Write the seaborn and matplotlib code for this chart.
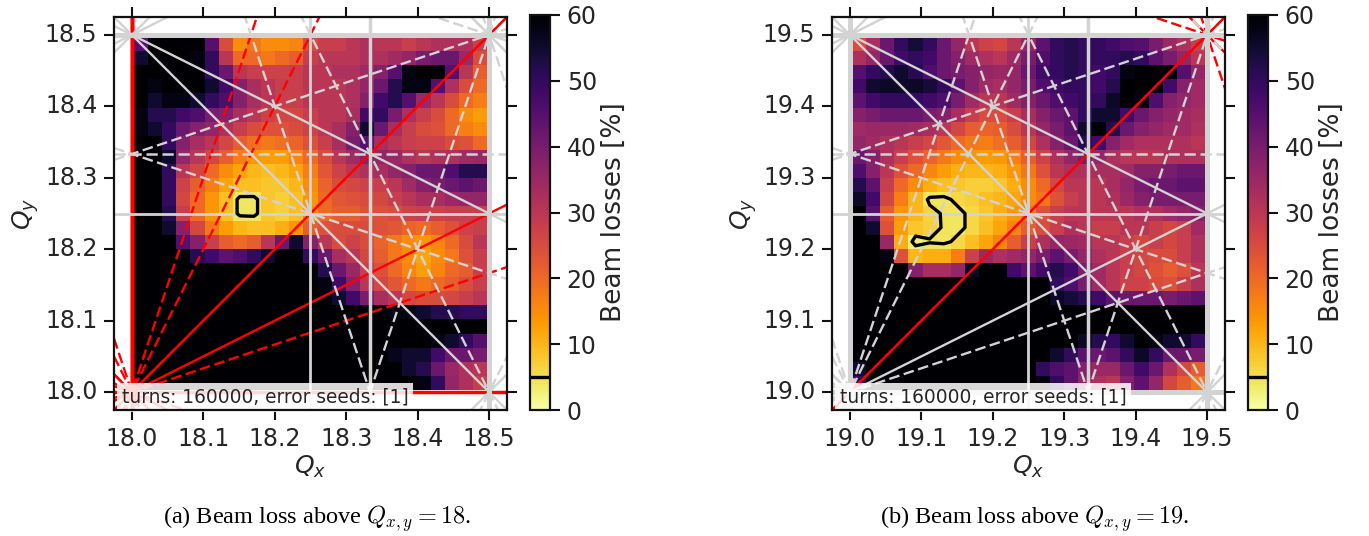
import numpy as np
import matplotlib
matplotlib.use("Agg")
import matplotlib.pyplot as plt
from matplotlib.transforms import Affine2D
import seaborn as sns

sns.set_theme(style="ticks")
plt.rcParams['font.family'] = ['DejaVu Sans']

W, H = 1369, 536

# rows from the top (Qy high) to the bottom, columns from Qx low to high
loss_a = [
 [45,60,60,60,60,45,25,15,18,15,15,16,25,28,28,30,32,30,30,28,30,32,32,32,28],
 [55,60,60,60,58,50,30,20,20,18,20,22,28,30,30,30,32,32,34,36,40,42,42,35,25],
 [60,60,60,60,60,50,42,30,28,27,27,28,30,30,32,32,34,38,45,58,60,60,45,30,22],
 [60,58,60,60,60,55,48,38,33,30,28,28,30,30,30,32,36,42,52,58,58,45,32,25,20],
 [60,55,58,58,55,50,46,38,33,30,28,28,30,30,30,32,38,48,52,45,35,30,25,20,17],
 [58,52,52,48,46,40,38,33,30,27,26,26,28,30,30,33,48,50,40,32,28,25,20,15,13],
 [58,55,50,42,38,36,32,28,25,24,24,25,27,30,33,38,55,42,33,28,25,24,20,17,15],
 [60,60,50,38,33,30,26,22,19,18,19,21,24,28,33,40,45,33,30,28,27,27,25,24,20],
 [60,60,55,36,30,26,22,17,14,13,13,16,20,25,30,34,38,36,35,32,30,32,32,34,35],
 [60,60,50,30,26,20,15,12,10,9,10,12,17,23,27,30,32,33,36,38,42,42,46,52,52],
 [60,60,50,27,22,17,12,9,9,8,8,10,15,21,25,26,27,28,30,34,38,40,42,44,42],
 [60,60,50,26,20,14,9,4,4,8,7,9,14,20,23,24,25,26,28,30,33,33,35,36,36],
 [60,60,52,28,20,14,9,4,4,8,7,9,15,20,22,22,24,24,25,27,28,27,28,28,28],
 [60,60,55,38,26,18,13,10,9,9,11,14,22,24,25,25,25,24,23,21,20,22,24,27,28],
 [60,60,60,45,38,28,22,20,22,30,42,55,38,30,25,27,25,21,18,15,14,16,20,25,30],
 [60,60,60,60,52,48,44,46,50,55,60,60,50,42,33,30,26,22,18,15,12,15,18,24,28],
 [60,60,60,60,60,60,60,60,60,60,60,60,60,52,42,35,28,24,20,16,13,16,20,22,28],
 [60,60,60,60,60,60,60,60,60,60,60,60,60,58,48,38,30,26,23,20,18,20,22,25,28],
 [60,60,60,60,60,60,60,60,60,60,60,60,60,60,55,48,40,33,30,26,25,25,26,28,30],
 [60,60,60,60,60,60,60,60,60,60,60,60,60,60,60,60,60,60,58,58,55,52,52,50,50],
 [60,60,60,60,60,60,60,60,60,60,60,60,60,60,60,60,60,60,60,60,60,60,60,60,60],
 [60,60,60,60,60,60,60,60,60,60,60,60,60,60,60,60,60,60,60,60,60,58,55,50,45],
 [60,60,60,60,60,60,60,60,60,60,60,60,60,60,60,60,60,60,57,55,55,48,42,42,40],
 [60,60,60,60,60,60,60,60,60,60,60,60,60,60,60,60,60,60,60,55,52,42,35,32,30],
 [60,60,60,60,60,60,60,60,60,60,60,60,60,60,60,60,60,60,60,60,58,50,36,32,28],
]

loss_b = [
 [25,33,42,50,54,50,42,36,30,27,26,30,36,44,50,52,50,50,48,46,45,40,35,32,28],
 [32,36,42,48,50,48,42,38,34,32,30,34,40,46,50,52,50,50,50,52,50,44,40,36,30],
 [45,50,52,55,52,46,42,40,38,36,35,36,42,48,50,52,50,48,50,58,60,60,60,45,36],
 [48,55,56,56,56,54,50,44,38,34,33,36,40,46,48,50,50,48,52,60,60,60,48,38,34],
 [44,48,50,50,50,48,46,40,34,30,30,34,38,42,46,48,50,50,56,60,58,46,38,36,34],
 [38,40,42,42,42,40,38,33,28,25,25,28,33,38,42,44,50,55,55,48,42,38,36,34,33],
 [34,35,35,35,34,33,30,26,22,21,22,25,30,36,40,44,55,60,52,42,38,36,34,34,32],
 [36,34,32,30,28,26,23,20,18,17,19,22,26,32,38,42,52,48,38,34,32,32,32,32,30],
 [42,38,32,28,24,21,18,15,14,13,14,17,22,27,32,36,40,36,32,30,30,30,32,32,32],
 [46,38,30,24,20,16,13,11,10,10,11,14,18,24,30,32,32,33,33,34,38,38,40,42,42],
 [52,44,28,20,15,11,9,8,7,7,8,11,15,20,26,30,30,30,33,36,40,42,42,44,44],
 [56,48,26,17,10,4,4,6,7,9,10,12,15,18,24,28,30,30,32,35,38,40,40,40,40],
 [60,45,22,14,10,6.5,4.5,4,6,8,11,14,18,24,28,30,30,30,30,30,32,32,34,36,38],
 [60,55,24,13,8,7,4.5,4,6,9,12,16,22,25,28,32,30,28,28,30,30,28,26,28,34],
 [60,60,35,11,3,4.5,4,6,9,12,16,22,28,32,36,35,34,30,30,28,26,28,26,28,32],
 [60,60,58,24,10,11,11,17,27,35,32,34,36,40,44,40,36,32,30,28,26,25,25,28,32],
 [60,60,60,60,38,33,33,36,56,60,60,48,44,48,52,48,40,34,30,28,26,24,22,24,30],
 [60,60,60,60,60,60,60,60,60,60,60,60,60,60,50,46,40,34,30,27,27,25,24,28,32],
 [60,60,60,60,60,60,60,60,60,60,60,60,60,60,56,54,52,48,44,42,42,42,40,42,44],
 [60,60,60,60,60,60,60,60,60,60,60,60,60,60,60,60,60,60,60,60,60,60,60,60,60],
 [60,60,60,60,60,60,60,60,60,60,60,60,60,60,60,60,60,60,60,60,60,60,60,60,60],
 [60,60,60,60,60,60,60,60,60,60,60,60,60,60,60,60,56,52,50,55,60,58,55,55,50],
 [60,60,60,60,60,60,60,60,60,60,60,60,60,60,55,50,44,42,44,50,56,50,42,42,40],
 [55,60,60,60,60,60,60,60,60,60,60,60,60,50,46,44,38,35,35,42,48,42,32,26,22],
 [50,60,60,60,60,60,60,60,60,60,60,60,60,58,50,44,36,32,30,38,44,36,26,22,18],
]

q_bases = [18, 19]
panel_losses = [loss_a, loss_b]
captions = [r"(a) Beam loss above $Q_{x,y}=18$.", r"(b) Beam loss above $Q_{x,y}=19$."]
box_text = "turns: 160000, error seeds: [1]"
tick_offsets = [0.0, 0.1, 0.2, 0.3, 0.4, 0.5]
cbar_ticks = [0, 10, 20, 30, 40, 50, 60]
contour_level = 5
resonances = [(1,0),(0,1),(2,0),(0,2),(1,1),(1,-1),(3,0),(0,3),(2,1),(2,-1),
              (1,2),(1,-2),(4,0),(0,4),(3,1),(3,-1),(1,3),(1,-3),(2,2),(2,-2)]
superperiod = 6

ink = '#111111'
txt = '#262626'
fig = plt.figure(figsize=(W/100, H/100), dpi=100)
fig.patch.set_facecolor('white')


def axpx(l, t, r, b):
    return [l/W, 1-b/H, (r-l)/W, (b-t)/H]


def width(a, b):
    if b == 0:
        return {1: 3.6, 2: 3.6, 3: 2.5, 4: 2.0}[a]
    if a == 0:
        return {1: 1.8, 2: 3.6, 3: 1.8, 4: 2.0}[b]
    return 1.7


def draw_res(ax, q0):
    lo, hi = q0-0.025, q0+0.525
    xs = np.array([lo, hi])
    for want_red in (True, False):
        for a, b in resonances:
            vals = [a*lo+b*lo, a*lo+b*hi, a*hi+b*lo, a*hi+b*hi]
            for p in range(int(np.floor(min(vals))), int(np.ceil(max(vals)))+1):
                red = p % superperiod == 0
                if red != want_red:
                    continue
                solid = b % 2 == 0
                kw = dict(color='red' if red else 'lightgrey',
                          lw=width(a, b) if not (red and a*b == 0) else min(width(a, b), 2.5),
                          zorder=3 if red else 4, solid_capstyle='butt')
                if not solid:
                    kw['dashes'] = (4.5, 1.9)
                if b == 0:
                    ax.plot([p/a, p/a], [lo, hi], **kw)
                else:
                    ax.plot(xs, (p-a*xs)/b, **kw)


for k, (q0, loss, cap) in enumerate(zip(q_bases, panel_losses, captions)):
    left = 114 + k*718
    ax = fig.add_axes(axpx(left, 17, left+393, 410))
    cax = fig.add_axes(axpx(left+416, 15, left+436, 410))
    grid = np.array(loss, dtype=float)[::-1]
    sns.heatmap(grid, ax=ax, cmap='inferno_r', vmin=0, vmax=60, cbar_ax=cax,
                cbar_kws={'ticks': cbar_ticks})
    mesh = ax.collections[0]
    n = grid.shape[0]
    step = 0.494/n
    start = q0 + 0.003
    mesh.set_transform(Affine2D().scale(step).translate(start, start) + ax.transData)
    centers = start + step*(np.arange(n)+0.5)
    cs = ax.contour(centers, centers, grid, levels=[contour_level], colors='black',
                    linewidths=2.4, zorder=5)
    draw_res(ax, q0)
    ax.set_xlim(q0-0.025, q0+0.525)
    ax.set_ylim(q0-0.025, q0+0.525)
    ticks = [q0+t for t in tick_offsets]
    ax.set_xticks(ticks)
    ax.set_yticks(ticks)
    ax.set_xticklabels([f"{t:.1f}" for t in ticks], rotation=0)
    ax.set_yticklabels([f"{t:.1f}" for t in ticks], rotation=0)
    ax.tick_params(axis='both', which='major', direction='out', length=7, width=1.5,
                   top=True, right=True, bottom=True, left=True, labelsize=17,
                   color=ink, labelcolor=txt, pad=5)
    ax.set_xlabel(r"$Q_x$", fontsize=18, color=txt, labelpad=2)
    ax.set_ylabel(r"$Q_y$", fontsize=18, color=txt, labelpad=3)
    for s in ax.spines.values():
        s.set_visible(True)
        s.set_linewidth(1.6)
        s.set_color(ink)
        s.set_zorder(10)
    ax.text(0.02, 0.0186, box_text, transform=ax.transAxes, fontsize=13.4, color=txt,
            va='baseline', ha='left', zorder=8,
            bbox=dict(facecolor='white', edgecolor='none', alpha=0.85, pad=3.5))
    cbar = mesh.colorbar
    cbar.add_lines(cs)
    cbar.set_label("Beam losses [%]", fontsize=19, color=txt, labelpad=3)
    cbar.ax.tick_params(length=7, width=1.5, labelsize=17, color=ink, labelcolor=txt, pad=5)
    cbar.outline.set_visible(True)
    cbar.outline.set_linewidth(1.6)
    cbar.outline.set_edgecolor(ink)
    fig.text((317+k*718)/W, 1-519/H, cap, family='Liberation Serif', fontsize=17.5,
             math_fontfamily='cm', ha='center', va='center', color='black')

fig.savefig('out.png', dpi=100)
